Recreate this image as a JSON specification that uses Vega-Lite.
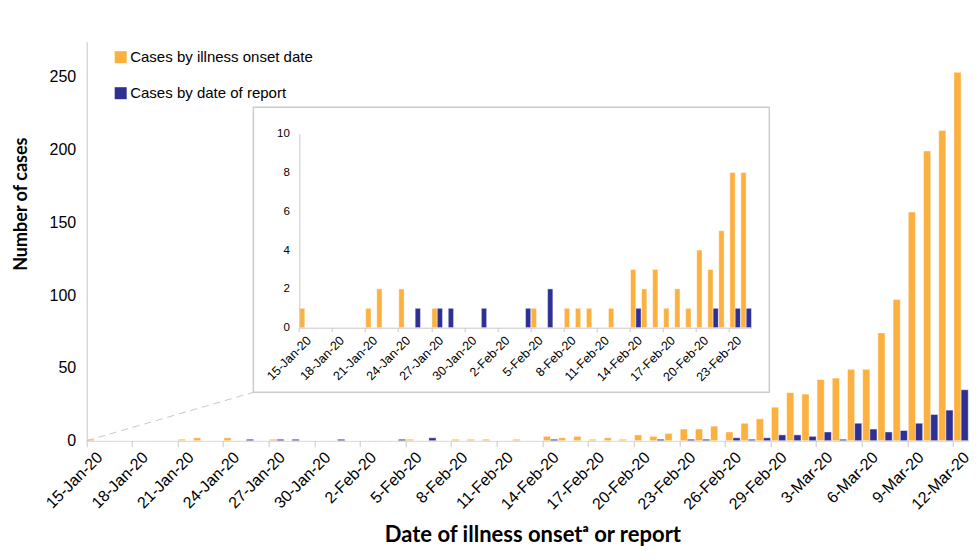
{
  "$schema": "https://vega.github.io/schema/vega-lite/v6.json",
  "autosize": {"type": "none"},
  "width": 882,
  "height": 399,
  "padding": {"left": 86.7, "top": 41.7, "right": 11.3, "bottom": 119.3},
  "background": "white",
  "config": {"view": {"stroke": null}, "font": "Liberation Sans"},
  "datasets": {
    "cases": [
      {"date": "15-Jan-20", "onset": 1, "report": 0},
      {"date": "16-Jan-20", "onset": 0, "report": 0},
      {"date": "17-Jan-20", "onset": 0, "report": 0},
      {"date": "18-Jan-20", "onset": 0, "report": 0},
      {"date": "19-Jan-20", "onset": 0, "report": 0},
      {"date": "20-Jan-20", "onset": 0, "report": 0},
      {"date": "21-Jan-20", "onset": 1, "report": 0},
      {"date": "22-Jan-20", "onset": 2, "report": 0},
      {"date": "23-Jan-20", "onset": 0, "report": 0},
      {"date": "24-Jan-20", "onset": 2, "report": 0},
      {"date": "25-Jan-20", "onset": 0, "report": 1},
      {"date": "26-Jan-20", "onset": 0, "report": 0},
      {"date": "27-Jan-20", "onset": 1, "report": 1},
      {"date": "28-Jan-20", "onset": 0, "report": 1},
      {"date": "29-Jan-20", "onset": 0, "report": 0},
      {"date": "30-Jan-20", "onset": 0, "report": 0},
      {"date": "31-Jan-20", "onset": 0, "report": 1},
      {"date": "1-Feb-20", "onset": 0, "report": 0},
      {"date": "2-Feb-20", "onset": 0, "report": 0},
      {"date": "3-Feb-20", "onset": 0, "report": 0},
      {"date": "4-Feb-20", "onset": 0, "report": 1},
      {"date": "5-Feb-20", "onset": 1, "report": 0},
      {"date": "6-Feb-20", "onset": 0, "report": 2},
      {"date": "7-Feb-20", "onset": 0, "report": 0},
      {"date": "8-Feb-20", "onset": 1, "report": 0},
      {"date": "9-Feb-20", "onset": 1, "report": 0},
      {"date": "10-Feb-20", "onset": 1, "report": 0},
      {"date": "11-Feb-20", "onset": 0, "report": 0},
      {"date": "12-Feb-20", "onset": 1, "report": 0},
      {"date": "13-Feb-20", "onset": 0, "report": 0},
      {"date": "14-Feb-20", "onset": 3, "report": 1},
      {"date": "15-Feb-20", "onset": 2, "report": 0},
      {"date": "16-Feb-20", "onset": 3, "report": 0},
      {"date": "17-Feb-20", "onset": 1, "report": 0},
      {"date": "18-Feb-20", "onset": 2, "report": 0},
      {"date": "19-Feb-20", "onset": 1, "report": 0},
      {"date": "20-Feb-20", "onset": 4, "report": 0},
      {"date": "21-Feb-20", "onset": 3, "report": 1},
      {"date": "22-Feb-20", "onset": 5, "report": 0},
      {"date": "23-Feb-20", "onset": 8, "report": 1},
      {"date": "24-Feb-20", "onset": 8, "report": 1},
      {"date": "25-Feb-20", "onset": 10, "report": 0},
      {"date": "26-Feb-20", "onset": 6, "report": 2},
      {"date": "27-Feb-20", "onset": 12, "report": 1},
      {"date": "28-Feb-20", "onset": 15, "report": 2},
      {"date": "29-Feb-20", "onset": 23, "report": 4},
      {"date": "1-Mar-20", "onset": 33, "report": 4},
      {"date": "2-Mar-20", "onset": 32, "report": 3},
      {"date": "3-Mar-20", "onset": 42, "report": 6},
      {"date": "4-Mar-20", "onset": 43, "report": 1},
      {"date": "5-Mar-20", "onset": 49, "report": 12},
      {"date": "6-Mar-20", "onset": 49, "report": 8},
      {"date": "7-Mar-20", "onset": 74, "report": 6},
      {"date": "8-Mar-20", "onset": 97, "report": 7},
      {"date": "9-Mar-20", "onset": 157, "report": 12},
      {"date": "10-Mar-20", "onset": 199, "report": 18},
      {"date": "11-Mar-20", "onset": 213, "report": 21},
      {"date": "12-Mar-20", "onset": 253, "report": 35}
    ]
  },
  "layer": [
    {
      "data": {"name": "cases"},
      "transform": [{"fold": ["onset", "report"], "as": ["series", "cases"]}],
      "mark": {"type": "bar", "stroke": "white", "strokeOpacity": 0.45, "strokeWidth": 1},
      "encoding": {
        "x": {
          "field": "date", "type": "ordinal", "sort": null,
          "scale": {"paddingInner": 0, "paddingOuter": 0},
          "axis": {
            "orient": "bottom",
            "values": ["15-Jan-20","18-Jan-20","21-Jan-20","24-Jan-20","27-Jan-20","30-Jan-20","2-Feb-20","5-Feb-20","8-Feb-20","11-Feb-20","14-Feb-20","17-Feb-20","20-Feb-20","23-Feb-20","26-Feb-20","29-Feb-20","3-Mar-20","6-Mar-20","9-Mar-20","12-Mar-20"],
            "bandPosition": 0,
            "labelAngle": -45,
            "labelFontSize": 16,
            "labelColor": "#000000",
            "labelPadding": 2,
            "domainColor": "#c8c8c8",
            "tickColor": "#c8c8c8",
            "tickSize": 6,
            "title": "Date of illness onsetᵃ or report",
            "titleFont": "Lato",
            "titleFontSize": 22,
            "titleFontWeight": "bold",
            "titleColor": "#000000",
            "titleX": 445.7,
            "titleY": 101,
            "titleBaseline": "alphabetic",
            "titleAlign": "center"
          }
        },
        "xOffset": {"field": "series", "sort": ["onset", "report"], "scale": {"paddingInner": 0, "paddingOuter": 0.06}},
        "y": {
          "field": "cases", "type": "quantitative",
          "scale": {"domain": [0, 274], "nice": false},
          "axis": {
            "orient": "left",
            "values": [0, 50, 100, 150, 200, 250],
            "ticks": false,
            "grid": false,
            "labelFontSize": 16,
            "labelColor": "#000000",
            "labelPadding": 11,
            "domainColor": "#c8c8c8",
            "title": "Number of cases",
            "titleFont": "Lato",
            "titleFontSize": 18,
            "titleFontWeight": "bold",
            "titleColor": "#000000",
            "titleX": -60,
            "titleY": 162,
            "titleBaseline": "alphabetic",
            "titleAlign": "center"
          }
        },
        "color": {
          "field": "series", "type": "nominal",
          "scale": {"domain": ["onset", "report"], "range": ["#FBB040", "#2E3192"]},
          "legend": {
            "orient": "none",
            "legendX": 26.5,
            "legendY": 8,
            "title": null,
            "padding": 0,
            "symbolType": "square",
            "symbolSize": 144,
            "symbolStrokeWidth": 0,
            "symbolOpacity": 1,
            "labelFontSize": 15,
            "labelColor": "#000000",
            "labelOffset": 2,
            "labelLimit": 0,
            "rowPadding": 20,
            "labelExpr": "datum.value == 'onset' ? 'Cases by illness onset date' : 'Cases by date of report'"
          }
        }
      }
    },
    {
      "data": {"values": [{}]},
      "mark": {"type": "rule", "color": "#c8c8c8", "strokeDash": [7, 5], "strokeWidth": 1},
      "encoding": {
        "x": {"datum": 0, "type": "quantitative", "scale": {"domain": [0, 58], "nice": false}, "axis": null},
        "x2": {"datum": 10.96},
        "y": {"datum": 0, "type": "quantitative", "scale": {"domain": [0, 274], "nice": false}, "axis": null},
        "y2": {"datum": 33.2}
      }
    },
    {
      "data": {"values": [{}]},
      "mark": {"type": "rect", "fill": "white", "stroke": "#cccccc", "strokeWidth": 1.5},
      "encoding": {
        "x": {"datum": 10.96, "type": "quantitative", "scale": {"domain": [0, 58], "nice": false}, "axis": null},
        "x2": {"datum": 44.89},
        "y": {"datum": 33.2, "type": "quantitative", "scale": {"domain": [0, 274], "nice": false}, "axis": null},
        "y2": {"datum": 228.9}
      }
    },
    {
      "data": {"name": "cases"},
      "transform": [
        {"window": [{"op": "row_number", "as": "i"}]},
        {"filter": "datum.i <= 41"},
        {"fold": ["onset", "report"], "as": ["series", "cases"]}
      ],
      "mark": {"type": "bar", "stroke": "white", "strokeOpacity": 0.45, "strokeWidth": 1},
      "encoding": {
        "x": {
          "field": "date", "type": "ordinal", "sort": null,
          "scale": {"range": [212.6, 665], "paddingInner": 0, "paddingOuter": 0},
          "axis": {
            "orient": "bottom",
            "values": ["15-Jan-20","18-Jan-20","21-Jan-20","24-Jan-20","27-Jan-20","30-Jan-20","2-Feb-20","5-Feb-20","8-Feb-20","11-Feb-20","14-Feb-20","17-Feb-20","20-Feb-20","23-Feb-20"],
            "bandPosition": 0,
            "offset": -113,
            "zindex": 1,
            "labelAngle": -45,
            "labelFontSize": 12.5,
            "labelColor": "#000000",
            "labelPadding": 2,
            "domainColor": "#c8c8c8",
            "tickColor": "#c8c8c8",
            "tickSize": 4,
            "title": null
          }
        },
        "xOffset": {"field": "series", "sort": ["onset", "report"], "scale": {"paddingInner": 0, "paddingOuter": 0.04}},
        "y": {
          "field": "cases", "type": "quantitative",
          "scale": {"domain": [0, 10], "range": [286, 92], "nice": false},
          "axis": {
            "orient": "left",
            "values": [0, 2, 4, 6, 8, 10],
            "offset": -212.6,
            "zindex": 1,
            "ticks": false,
            "grid": false,
            "labelFontSize": 11.5,
            "labelColor": "#000000",
            "labelPadding": 10,
            "domainColor": "#c8c8c8",
            "title": null
          }
        },
        "color": {"field": "series", "type": "nominal", "legend": null}
      }
    }
  ],
  "resolve": {"scale": {"x": "independent", "y": "independent", "xOffset": "independent"}}
}
